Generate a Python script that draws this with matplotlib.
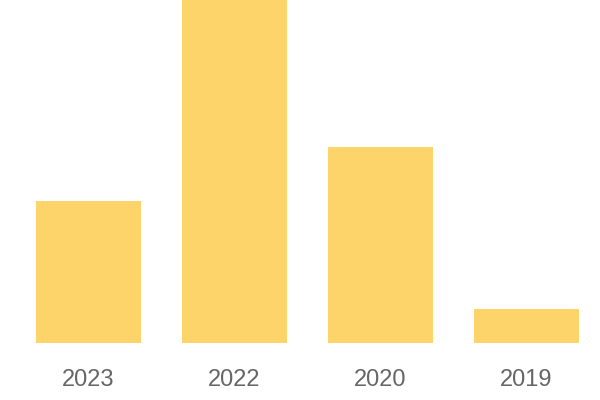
import matplotlib.pyplot as plt

# Données du graphique
annees = ["2023", "2022", "2020", "2019"]
valeurs = [41.4, 100, 57.1, 9.9]

plt.rcParams['font.family'] = ['Liberation Sans', 'DejaVu Sans']

fig = plt.figure(figsize=(6, 4), dpi=100)
ax = fig.add_axes([0.026, 0.1425, 0.973, 0.8575])

ax.bar(range(len(annees)), valeurs, width=0.72, color="#FDD46A")
ax.set_xlim(-0.5, len(annees) - 0.5)
ax.set_ylim(0, max(valeurs))

ax.set_xticks(range(len(annees)))
ax.set_xticklabels(annees, fontsize=17, color="#666666")
ax.tick_params(axis='x', length=0, pad=19)
ax.set_yticks([])
for s in ax.spines.values():
    s.set_visible(False)

fig.savefig("out.png", dpi=100)
